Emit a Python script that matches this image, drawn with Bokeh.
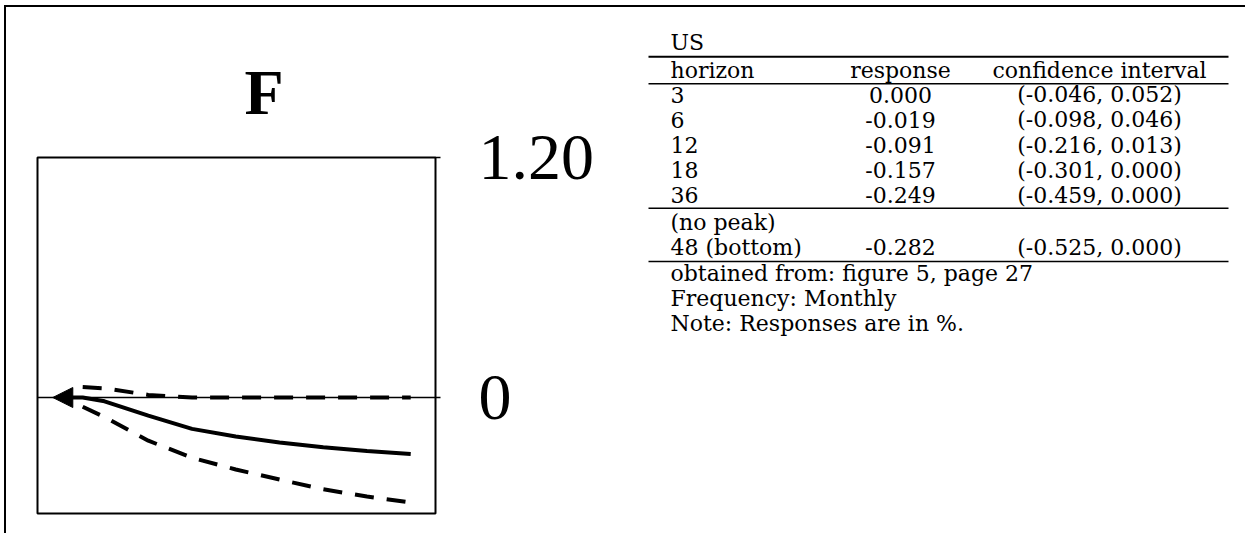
from bokeh.plotting import figure
from bokeh.layouts import row
from bokeh.models import Range1d, FixedTicker, Span, Arrow, NormalHead
from bokeh.core.properties import value
from bokeh.embed import file_html
from bokeh.resources import INLINE

panel_title = "F"
horizon_line = [0, 3, 6, 12, 18, 24, 30, 36, 42, 48]
response_line = [0.0, 0.000, -0.019, -0.091, -0.157, -0.195, -0.225, -0.249, -0.268, -0.282]
band_horizon = [3, 6, 12, 18, 24, 30, 36, 42, 48]
band_upper = [0.052, 0.046, 0.013, 0.000, 0.000, 0.000, 0.000, 0.000, 0.000]
band_lower = [-0.046, -0.098, -0.216, -0.301, -0.36, -0.41, -0.459, -0.495, -0.525]
y_ticks = [0, 1.2]
y_tick_labels = ["0", "1.20"]

table_title = "US"
table_header = ["horizon", "response", "confidence interval"]
table_horizon = ["3", "6", "12", "18", "36"]
table_response = ["0.000", "-0.019", "-0.091", "-0.157", "-0.249"]
table_ci = ["(-0.046, 0.052)", "(-0.098, 0.046)", "(-0.216, 0.013)",
            "(-0.301, 0.000)", "(-0.459, 0.000)"]
peak_label = "(no peak)"
bottom_row = ["48 (bottom)", "-0.282", "(-0.525, 0.000)"]
notes = ["obtained from: figure 5, page 27", "Frequency: Monthly",
         "Note: Responses are in %."]

H = 528

# ---------------- chart ----------------
p = figure(width=622, height=H, output_backend="svg", toolbar_location=None,
           x_range=Range1d(-3.2, 51.4), y_range=Range1d(-0.58, 1.20),
           x_axis_location=None, y_axis_location="right",
           min_border_left=31, min_border_top=150, min_border_right=193,
           min_border_bottom=H - 150 - 356, background_fill_color="white",
           border_fill_color="white", frame_align=False,
           styles={"border-left": "2px solid black", "border-top": "2px solid black"})
p.grid.visible = False
p.outline_line_color = "black"
p.outline_line_width = 2

p.title.text = panel_title
p.title.text_font = "Liberation Serif"
p.title.text_font_style = "bold"
p.title.text_font_size = "64px"
p.title.text_color = "black"
p.title.align = "left"
p.title.offset = 207
p.title.standoff = 60

ax = p.yaxis[0]
ax.ticker = FixedTicker(ticks=y_ticks)
ax.major_label_overrides = dict(zip(y_ticks, y_tick_labels))
ax.axis_line_color = None
ax.major_tick_out = 5
ax.major_tick_in = 0
ax.major_tick_line_width = 1.5
ax.minor_tick_line_color = None
ax.major_label_standoff = 38
ax.major_label_text_font = "Liberation Serif"
ax.major_label_text_font_size = "66px"
ax.major_label_text_color = "black"

p.add_layout(Span(location=0, dimension="width", line_color="black", line_width=1.5))

p.line(band_horizon, band_upper, line_color="black", line_width=4, line_dash="19 13")
p.line(band_horizon, band_lower, line_color="black", line_width=4, line_dash="19 13")
p.line(horizon_line, response_line, line_color="black", line_width=4)
p.add_layout(Arrow(end=NormalHead(size=20, fill_color="black", line_color="black"),
                   x_start=horizon_line[0], y_start=response_line[0],
                   x_end=horizon_line[0] - 1.1, y_end=response_line[0],
                   line_color="black", line_width=4))

# ---------------- table ----------------
TW = 619
t = figure(width=TW, height=H, output_backend="svg", toolbar_location=None,
           x_range=Range1d(0, TW), y_range=Range1d(H - 2, 0),
           x_axis_location=None, y_axis_location=None,
           min_border=0, background_fill_color="white", border_fill_color="white",
           frame_align=False, styles={"border-top": "2px solid black"})
t.grid.visible = False
t.outline_line_color = None

font = value("DejaVu Serif")
fs = "22px"
col_left, col_resp, col_ci = 44, 274, 473
rule_x0, rule_x1 = 22, 602
pitch = 25

y_us = 35
y_rule_top = 49
y_head = 63
y_rule_head = 76
y_rows = [87 + i * pitch for i in range(len(table_horizon))]
y_rule_mid = y_rows[-1] + 13
y_peak = y_rule_mid + 14
y_bottom = y_peak + pitch
y_rule_bot = y_bottom + 14
y_notes = [y_rule_bot + 12 + i * pitch for i in range(len(notes))]

left_txt = [table_title, table_header[0]] + table_horizon + [peak_label, bottom_row[0]] + notes
left_y = [y_us, y_head] + y_rows + [y_peak, y_bottom] + y_notes
t.text(x=[col_left] * len(left_txt), y=left_y, text=left_txt, text_font=font,
       text_font_size=fs, text_baseline="middle", text_align="left", text_color="black")

resp_txt = [table_header[1]] + table_response + [bottom_row[1]]
resp_y = [y_head] + y_rows + [y_bottom]
t.text(x=[col_resp] * len(resp_txt), y=resp_y, text=resp_txt, text_font=font,
       text_font_size=fs, text_baseline="middle", text_align="center", text_color="black")

ci_txt = [table_header[2]] + table_ci + [bottom_row[2]]
t.text(x=[col_ci] * len(ci_txt), y=resp_y, text=ci_txt, text_font=font,
       text_font_size=fs, text_baseline="middle", text_align="center", text_color="black")

rules_y = [y_rule_top, y_rule_head, y_rule_mid, y_rule_bot]
rules_w = [2, 1.4, 1.4, 1.4]
t.segment(x0=[rule_x0] * 4, y0=rules_y, x1=[rule_x1] * 4, y1=rules_y,
          line_color="black", line_width=rules_w)

layout = row(p, t, styles={"margin-left": "4px", "margin-top": "5px"})

open("out.html", "w").write(file_html(layout, INLINE))
